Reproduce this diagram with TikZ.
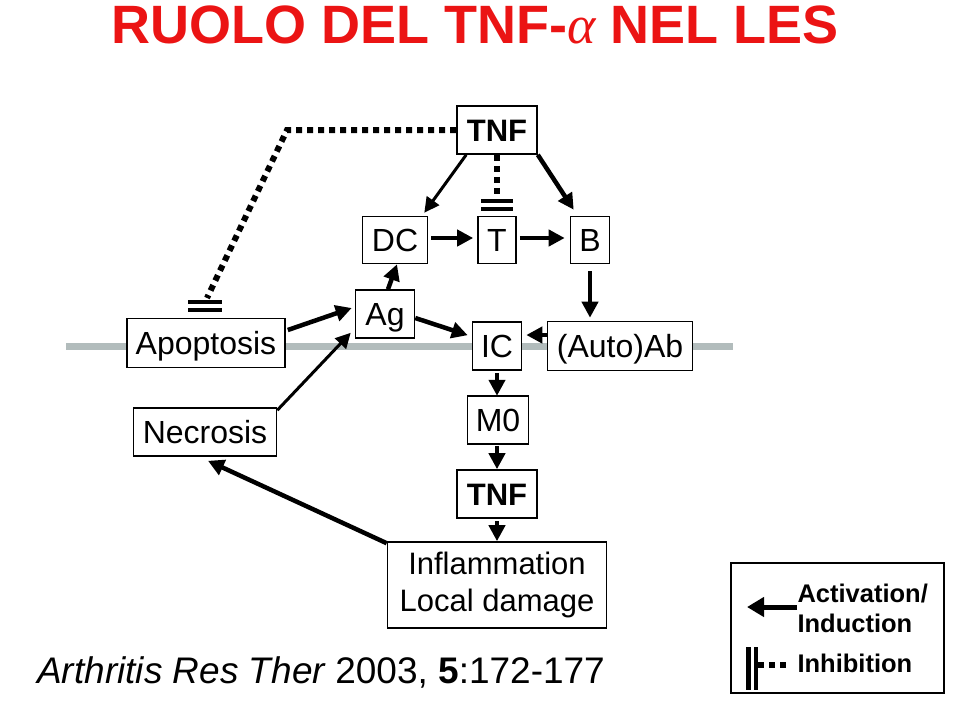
\documentclass[tikz,border=0pt]{standalone}
\usepackage{fontspec}
\setmainfont{Liberation Sans}
\newfontfamily\greekserif{Liberation Serif}
\usetikzlibrary{arrows.meta,calc}
\definecolor{titlered}{RGB}{235,20,20}
\definecolor{membrane}{RGB}{178,188,188}
\tikzset{
  box/.style={draw=black,line width=1.6pt,fill=white,inner sep=0pt,text height=23pt,text depth=0pt,font=\fontsize{32}{38}\selectfont},
  act/.style={line width=4.5pt,-{Triangle[length=16pt,width=16pt]}},
  actthin/.style={line width=3pt,-{Triangle[length=15pt,width=15pt]}},
  inhib/.style={line width=6pt,dash pattern=on 6pt off 5pt},
  bar/.style={line width=4pt},
}
\begin{document}
\begin{tikzpicture}[x=1pt,y=-1pt]
\useasboundingbox (0,0) rectangle (960,705);
% title
\node[anchor=center,text=titlered,font=\fontsize{54}{58}\selectfont\bfseries] (title) at (475,25) {RUOLO DEL TNF-{\greekserif\mdseries\itshape α} NEL LES};
% membrane
\coordinate (ml) at (66,346);
\coordinate (mr) at (733,346);
\draw[membrane,line width=7pt] (ml) -- (mr);
% nodes
\node[box,minimum width=80pt,minimum height=48pt,text height=22pt,font=\fontsize{31}{36}\selectfont\bfseries] (tnf) at (497,130) {TNF};
\node[box,minimum width=65pt,minimum height=47pt] (dc) at (395,240) {DC};
\node[box,minimum width=38pt,minimum height=47pt] (t) at (497,240) {T};
\node[box,minimum width=39pt,minimum height=47pt] (b) at (590,240) {B};
\node[box,minimum width=59pt,minimum height=48pt] (ag) at (385,314) {Ag};
\node[box,minimum width=158pt,minimum height=49pt] (apo) at (206,343) {Apoptosis};
\node[box,minimum width=49pt,minimum height=48pt] (ic) at (497,346) {IC};
\node[box,minimum width=145pt,minimum height=49pt] (ab) at (620,346) {(Auto)Ab};
\node[box,minimum width=143pt,minimum height=48pt] (nec) at (205,432) {Necrosis};
\node[box,minimum width=61pt,minimum height=48pt] (m0) at (498,420) {M0};
\node[box,minimum width=80pt,minimum height=48pt,text height=22pt,font=\fontsize{31}{36}\selectfont\bfseries] (tnf2) at (497,494) {TNF};
\node[box,minimum width=219pt,minimum height=86pt,align=center,text height=,text depth=,font=\fontsize{31}{37}\selectfont] (infl) at (497,585) {Inflammation\\Local damage};
% connectors
\coordinate (bend) at (287,130);
\coordinate (apoin) at (207,298);
\draw[inhib] (tnf.west) -- (bend) -- (apoin);
\draw[bar] ($(apo.north)+(-18,-16)$) -- ++(34,0);
\draw[bar] ($(apo.north)+(-18,-8)$) -- ++(34,0);
\coordinate (tin) at (497,197);
\draw[inhib] (tnf.south) -- (tin);
\draw[bar] ($(t.north)+(-16,-15)$) -- ++(32,0);
\draw[bar] ($(t.north)+(-16,-7)$) -- ++(32,0);
\draw[actthin] ($(tnf.south west)+(10,0)$) -- ($(dc.north east)+(-4,-3)$);
\draw[act] ($(tnf.south east)+(0,0)$) -- ($(b.north west)+(4,-6)$);
\draw[act] (dc.east) ++(3,-2) -- ($(t.west)+(-4,-2)$);
\draw[act] (t.east) ++(3,-2) -- ($(b.west)+(-5,-2)$);
\draw[act] ($(b.south)+(0,7)$) -- ($(ab.north)+(-30,-3)$);
\draw[act] ($(ag.north)+(3,0)$) -- ($(dc.south)+(2,0)$);
\draw[act] ($(apo.east)+(2,-13)$) -- ($(ag.west)+(-3,-6)$);
\draw[actthin] ($(nec.north east)+(0,3)$) -- ($(ag.south west)+(-4,-6)$);
\draw[act] ($(ag.east)+(0,4)$) -- ($(ic.north west)+(-4,14)$);
\draw[act] ($(ab.west)+(0,-11)$) -- ($(ic.east)+(4,-11)$);
\draw[act] ($(ic.south)+(0,2)$) -- ($(m0.south)+(-1,-49)$);
\draw[act] ($(m0.south)+(-1,1)$) -- (tnf2.north);
\draw[act] ($(tnf2.south)+(0,2)$) -- (infl.north);
\draw[act] (infl.north west) ++(0,2) -- ($(nec.south)+(3,4)$);
% legend
\node[draw=black,line width=1.6pt,minimum width=213pt,minimum height=130pt,inner sep=0pt] (leg) at (837.5,628) {};
\coordinate (la) at (797,607);
\coordinate (lb) at (747,607);
\draw[line width=5pt,-{Triangle[length=17pt,width=19pt]}] (la) -- (lb);
\node[anchor=west,align=left,font=\fontsize{25.5}{30}\selectfont\bfseries] (lact) at (794,608) {Activation/\\Induction};
\node[anchor=west,font=\fontsize{25.5}{30}\selectfont\bfseries] (linh) at (794,663) {Inhibition};
\coordinate (lb1) at (748,647);
\coordinate (lb2) at (748,690);
\coordinate (lc1) at (756,647);
\coordinate (lc2) at (756,690);
\draw[line width=5pt] (lb1) -- (lb2);
\draw[line width=4pt] (lc1) -- (lc2);
\coordinate (ld1) at (758,665);
\coordinate (ld2) at (788,665);
\draw[line width=6pt,dash pattern=on 6pt off 5pt] (ld1) -- (ld2);
% citation
\node[anchor=base west,font=\fontsize{37}{42}\selectfont,inner sep=0pt] (cite) at (37,683) {\itshape Arthritis Res Ther\upshape{} 2003, \textbf{5}:172-177};
\end{tikzpicture}
\end{document}
